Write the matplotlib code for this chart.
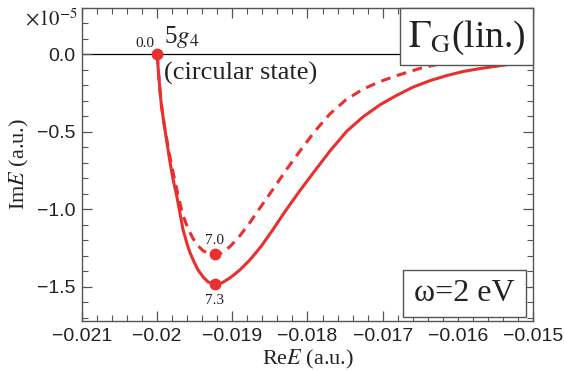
import matplotlib
matplotlib.use("Agg")
import matplotlib.pyplot as plt
from matplotlib.patches import Rectangle
from matplotlib.ticker import MultipleLocator, FixedLocator

plt.rcParams['font.family'] = ['Liberation Sans', 'DejaVu Sans']
plt.rcParams['mathtext.fontset'] = 'stix'

# Complex energy trajectory of the 5g4 state (Re E in a.u., Im E in 1e-5 a.u.)
re_solid = [-0.020000, -0.019976, -0.019949, -0.019922, -0.019896, -0.019869,
            -0.019829, -0.019789, -0.019736, -0.019696, -0.019656, -0.019603,
            -0.019563, -0.019510, -0.019457, -0.019390, -0.019324, -0.019231,
            -0.019138, -0.019031, -0.018898, -0.018765, -0.018619, -0.018459,
            -0.018353, -0.018233, -0.018087, -0.017927, -0.017701, -0.017475,
            -0.017262, -0.017036, -0.016810, -0.016597, -0.016370, -0.016144,
            -0.015931, -0.015705, -0.015519, -0.015333]
im_solid = [0.000, -0.156, -0.305, -0.403, -0.487, -0.571,
            -0.695, -0.805, -0.922, -1.026, -1.130, -1.221,
            -1.279, -1.338, -1.390, -1.435, -1.468, -1.480,
            -1.474, -1.442, -1.390, -1.325, -1.240, -1.130,
            -1.052, -0.968, -0.870, -0.766, -0.623, -0.494,
            -0.403, -0.325, -0.263, -0.211, -0.169, -0.136,
            -0.110, -0.091, -0.078, -0.065]

re_dash = [-0.020000, -0.019976, -0.019949, -0.019922, -0.019883, -0.019843,
           -0.019803, -0.019763, -0.019710, -0.019656, -0.019590, -0.019523,
           -0.019457, -0.019390, -0.019324, -0.019231, -0.019138, -0.019031,
           -0.018898, -0.018765, -0.018619, -0.018459, -0.018286, -0.018100,
           -0.017900, -0.017701, -0.017488, -0.017262, -0.017036, -0.016810,
           -0.016637, -0.016464, -0.016277, -0.016038]
im_dash = [0.000, -0.156, -0.305, -0.403, -0.519, -0.630,
           -0.727, -0.818, -0.935, -1.039, -1.123, -1.188,
           -1.234, -1.266, -1.284, -1.290, -1.279, -1.240,
           -1.169, -1.084, -0.981, -0.870, -0.747, -0.623,
           -0.494, -0.383, -0.292, -0.224, -0.175, -0.136,
           -0.110, -0.084, -0.065, -0.042]

# labelled points: (Re E, Im E, intensity label)
start_pt = (-0.020000, 0.000, '0.0')
min_dash = (-0.019231, -1.290, '7.0')
min_solid = (-0.019231, -1.480, '7.3')

red = '#e8302f'
edge = '#555555'
ink = '#222222'
serif = 'Liberation Serif'

fig = plt.figure(figsize=(5.64, 3.73), dpi=100)
ax = fig.add_axes([0.1454, 0.1394, 0.7996, 0.8392])

ax.axhline(0, color='black', lw=0.9, zorder=1)
ax.plot(re_solid, im_solid, color=red, lw=2.2, zorder=3,
        solid_joinstyle='round')
ax.plot(re_dash, im_dash, color=red, lw=2.2, ls=(0, (3.2, 2.2)), zorder=3)
for px, py, _ in (start_pt, min_dash, min_solid):
    ax.plot(px, py, 'o', color=red, ms=7.5, zorder=4)

ax.annotate(start_pt[2], start_pt[:2], xytext=(-9, 3),
            textcoords='offset points', ha='center', va='bottom',
            fontsize=11, family=serif, color=ink)
ax.annotate(min_dash[2], min_dash[:2], xytext=(0, 5),
            textcoords='offset points', ha='center', va='bottom',
            fontsize=11, family=serif, color=ink)
ax.annotate(min_solid[2], min_solid[:2], xytext=(0, -7),
            textcoords='offset points', ha='center', va='top',
            fontsize=11, family=serif, color=ink)
ax.annotate(r'5$g_4$', start_pt[:2], xytext=(5, 3),
            textcoords='offset points', ha='left', va='bottom',
            fontsize=18, family=serif, color=ink)
ax.annotate('(circular state)', start_pt[:2], xytext=(5, -5),
            textcoords='offset points', ha='left', va='top',
            fontsize=19, family=serif, color=ink)

ax.set_xlim(-0.021, -0.015)
ax.set_ylim(-1.72, 0.30)
ax.xaxis.set_major_locator(FixedLocator([-0.021, -0.020, -0.019, -0.018,
                                         -0.017, -0.016, -0.015]))
ax.xaxis.set_minor_locator(MultipleLocator(0.0002))
ax.set_xticklabels(['\u22120.021', '\u22120.02', '\u22120.019', '\u22120.018',
                    '\u22120.017', '\u22120.016', '\u22120.015'])
ax.yaxis.set_major_locator(FixedLocator([-1.5, -1.0, -0.5, 0.0]))
ax.yaxis.set_minor_locator(MultipleLocator(0.1))
ax.set_yticklabels(['\u22121.5', '\u22121.0', '\u22120.5', '0.0'])

ax.tick_params(which='both', direction='in', top=True, right=True,
               color=edge, labelsize=14, labelcolor=ink)
ax.tick_params(which='major', length=7, width=0.9, pad=5)
ax.tick_params(which='minor', length=4, width=0.8)
for sp in ax.spines.values():
    sp.set_color(edge)
    sp.set_linewidth(1.0)

ax.set_xlabel(r'Re$E$ (a.u.)', fontsize=16, family=serif, color=ink,
              labelpad=2)
ax.set_ylabel(r'Im$E$ (a.u.)', fontsize=16, family=serif, color=ink,
              labelpad=4)

ax.text(-0.01, 1.0, r'$\times 10^{-5}$', transform=ax.transAxes,
        ha='right', va='top', fontsize=15, color=ink)

# boxed annotations
ax.add_patch(Rectangle((0.705, 0.818), 0.295, 0.182, transform=ax.transAxes,
                       facecolor='white', edgecolor=edge, lw=1.0, zorder=5,
                       clip_on=False))
ax.text(0.8525, 0.905, r'$\Gamma_{\mathrm{G}}$(lin.)', transform=ax.transAxes,
        ha='center', va='center', fontsize=27, family=serif,
        color=ink, zorder=6)
ax.add_patch(Rectangle((0.712, 0.013), 0.272, 0.150, transform=ax.transAxes,
                       facecolor='white', edgecolor=edge, lw=1.0, zorder=5))
ax.text(0.848, 0.088, '\u03c9=2 eV', transform=ax.transAxes,
        ha='center', va='center', fontsize=23, family=serif,
        color=ink, zorder=6)

fig.savefig('out.png', dpi=100)
